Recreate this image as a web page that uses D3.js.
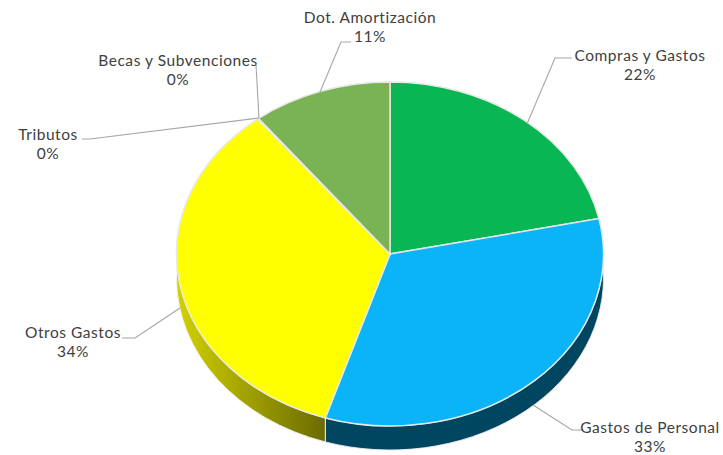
<!DOCTYPE html>
<html><head><meta charset="utf-8">
<script src="https://cdn.jsdelivr.net/npm/d3@7/dist/d3.min.js"></script>
<style>html,body{margin:0;padding:0;background:#fff}svg{display:block}text{font-family:Lato,sans-serif;font-size:15.5px;letter-spacing:0.55px;fill:#404040}</style>
</head><body><svg id="c" width="723" height="455"></svg>
<script>
const categories=["Compras y Gastos","Gastos de Personal","Otros Gastos","Tributos","Becas y Subvenciones","Dot. Amortización"];
const values=[21.7,33.2,34.45,0.05,0.05,10.55];
const colors=["#08b654","#0ab4f7","#ffff00","#c0c040","#c0c040","#79b354"];
const sideColors=["#06753a","#004660","url(#yw)","#808000","#808000","#4c7235"];
const labelPos=[[640,61],[650,433],[73,338],[48,140],[178,66],[370,23]];
const leaders=[[[527,124],[555,58],[572,58]],[[533,405],[572,430],[582,430]],[[180,308],[135,338],[122,338]],[[259,118],[90,139],[82,139]],[[259,118],[256,65]],[[320,92],[341,42],[351,42]]];
const cx=390,cy=254,rx=213.5,ry=172,depth=24;
const svg=d3.select("#c");
const defs=svg.append("defs");
const g=defs.append("linearGradient").attr("id","yw").attr("gradientUnits","userSpaceOnUse").attr("x1",176).attr("x2",326).attr("y1",0).attr("y2",0);
g.append("stop").attr("offset",0).attr("stop-color","#d2d200");
g.append("stop").attr("offset",1).attr("stop-color","#6a6a00");
const arcs=d3.pie().sort(null)(values);
const pt=(a,dy=0)=>[cx+rx*Math.sin(a),cy-ry*Math.cos(a)+dy];
const halo=svg.append("g").attr("fill","none").attr("stroke","#d9d9d9").attr("stroke-width",1);
halo.append("path").attr("d",()=>{const l=pt(Math.PI*1.5),r=pt(Math.PI/2),l2=pt(Math.PI*1.5,depth),r2=pt(Math.PI/2,depth);
 return `M${l}A${rx},${ry} 0 0 1 ${r}L${r2}A${rx},${ry} 0 0 1 ${l2}Z`;});
arcs.forEach((d,i)=>{
 const a0=Math.max(d.startAngle,Math.PI/2),a1=Math.min(d.endAngle,Math.PI*1.5);
 if(a1<=a0)return;
 const p0=pt(a0),p1=pt(a1),q0=pt(a0,depth),q1=pt(a1,depth);
 svg.append("path").attr("fill",sideColors[i]).attr("stroke","#fff").attr("stroke-width",0.8)
  .attr("d",`M${p0}A${rx},${ry} 0 0 1 ${p1}L${q1}A${rx},${ry} 0 0 0 ${q0}Z`);
});
const arc=d3.arc().innerRadius(0).outerRadius(rx);
svg.append("g").attr("transform",`translate(${cx},${cy}) scale(1,${ry/rx})`)
 .selectAll("path").data(arcs).join("path")
 .attr("d",arc).attr("fill",(d,i)=>colors[i]).attr("stroke","#e8e8e8").attr("stroke-width",1.5)
 .attr("vector-effect","non-scaling-stroke");
const line=d3.line();
svg.append("g").selectAll("path").data(leaders).join("path").attr("d",line).attr("fill","none").attr("stroke","#a6a6a6").attr("stroke-width",1.1);
const total=d3.sum(values);
const lab=svg.append("g").selectAll("text").data(categories).join("text").attr("text-anchor","middle")
 .attr("transform",(d,i)=>`translate(${labelPos[i]})`);
lab.append("tspan").attr("x",0).attr("y",0).text(d=>d);
lab.append("tspan").attr("x",0).attr("y",19).text((d,i)=>Math.round(values[i]/total*100)+"%");
</script></body></html>
